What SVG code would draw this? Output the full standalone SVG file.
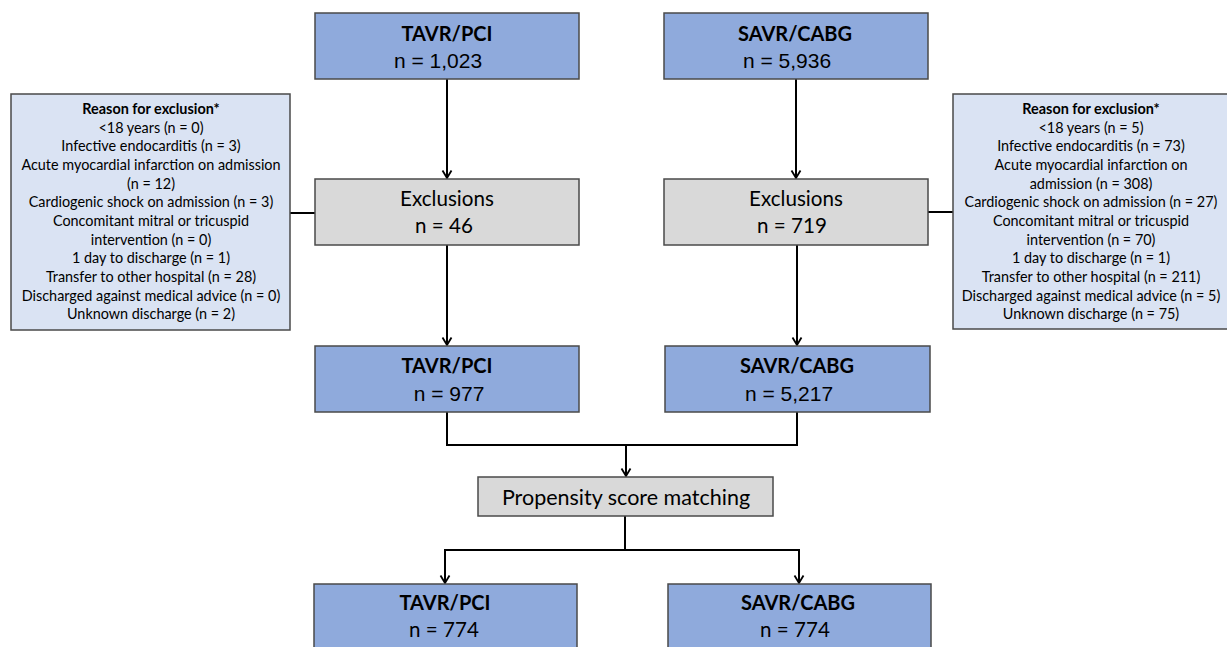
<svg xmlns="http://www.w3.org/2000/svg" width="1227" height="647" viewBox="0 0 1227 647">
<defs>
<style>
.blue{fill:#8FAADC;stroke:#4a4a4a;stroke-width:1.5}
.grey{fill:#D9D9D9;stroke:#4a4a4a;stroke-width:1.5}
.light{fill:#DAE3F3;stroke:#4a4a4a;stroke-width:1.5}
.title{font-family:Lato,"Noto Sans",sans-serif;font-weight:bold;font-size:20px;fill:#000;text-anchor:middle}
.num{font-family:"Liberation Sans",Arial,sans-serif;font-size:21px;fill:#000;text-anchor:middle}
.cal{font-family:Lato,"Noto Sans",sans-serif;font-size:20.6px;fill:#000;text-anchor:middle}
.rs{font-family:Lato,"Noto Sans",sans-serif;font-size:14.4px;fill:#000;text-anchor:middle}
.rsb{font-weight:bold}
.conn{fill:none;stroke:#000;stroke-width:2}
</style>
<marker id="arr" viewBox="0 0 12 12" refX="11" refY="6" markerWidth="12" markerHeight="12" markerUnits="userSpaceOnUse" orient="auto">
<path d="M3.5,1.5 L11,6 L3.5,10.5" fill="none" stroke="#000" stroke-width="1.8"/>
</marker>
</defs>
<rect width="1227" height="647" fill="#fff"/>
<g id="connectors">
<path class="conn" d="M447,79 V178" marker-end="url(#arr)"/>
<path class="conn" d="M796,79 V178" marker-end="url(#arr)"/>
<path class="conn" d="M290,213 H315"/>
<path class="conn" d="M928,212 H953"/>
<path class="conn" d="M447,245 V345" marker-end="url(#arr)"/>
<path class="conn" d="M797,245 V345" marker-end="url(#arr)"/>
<path class="conn" d="M447,412 V445 H797 V412"/>
<path class="conn" d="M626,445 V476" marker-end="url(#arr)"/>
<path class="conn" d="M625,516 V550"/>
<path class="conn" d="M625,550 H445 V583" marker-end="url(#arr)"/>
<path class="conn" d="M625,550 H799 V583" marker-end="url(#arr)"/>
</g>
<g id="tavr-initial">
<rect class="blue" x="315" y="13" width="264" height="66"/>
<text class="title" x="447" y="41">TAVR/PCI</text>
<text class="num" x="438" y="68">n = 1,023</text>
</g>
<g id="savr-initial">
<rect class="blue" x="664" y="13" width="264" height="66"/>
<text class="title" x="795" y="41">SAVR/CABG</text>
<text class="num" x="787" y="68">n = 5,936</text>
</g>
<g id="tavr-exclusions">
<rect class="grey" x="315" y="179" width="264" height="66"/>
<text class="cal" x="447" y="206">Exclusions</text>
<text class="cal" x="444" y="233">n = 46</text>
</g>
<g id="savr-exclusions">
<rect class="grey" x="664" y="179" width="264" height="66"/>
<text class="cal" x="796" y="206">Exclusions</text>
<text class="cal" x="792" y="233">n = 719</text>
</g>
<g id="tavr-reasons">
<rect class="light" x="11" y="94" width="279" height="236"/>
<text class="rs rsb" x="151" y="114">Reason for exclusion*</text>
<text class="rs" x="151" y="132.5">&lt;18 years (n = 0)</text>
<text class="rs" x="151" y="151.2">Infective endocarditis (n = 3)</text>
<text class="rs" x="151" y="169.8">Acute myocardial infarction on admission</text>
<text class="rs" x="151" y="188.5">(n = 12)</text>
<text class="rs" x="151" y="207.2">Cardiogenic shock on admission (n = 3)</text>
<text class="rs" x="151" y="225.8">Concomitant mitral or tricuspid</text>
<text class="rs" x="151" y="244.5">intervention (n = 0)</text>
<text class="rs" x="151" y="263.2">1 day to discharge (n = 1)</text>
<text class="rs" x="151" y="281.8">Transfer to other hospital (n = 28)</text>
<text class="rs" x="151" y="300.5">Discharged against medical advice (n = 0)</text>
<text class="rs" x="151" y="319.2">Unknown discharge (n = 2)</text>
</g>
<g id="savr-reasons">
<rect class="light" x="953" y="94" width="278" height="235"/>
<text class="rs rsb" x="1091" y="114">Reason for exclusion*</text>
<text class="rs" x="1091" y="132.5">&lt;18 years (n = 5)</text>
<text class="rs" x="1091" y="151.2">Infective endocarditis (n = 73)</text>
<text class="rs" x="1091" y="169.8">Acute myocardial infarction on</text>
<text class="rs" x="1091" y="188.5">admission (n = 308)</text>
<text class="rs" x="1091" y="207.2">Cardiogenic shock on admission (n = 27)</text>
<text class="rs" x="1091" y="225.8">Concomitant mitral or tricuspid</text>
<text class="rs" x="1091" y="244.5">intervention (n = 70)</text>
<text class="rs" x="1091" y="263.2">1 day to discharge (n = 1)</text>
<text class="rs" x="1091" y="281.8">Transfer to other hospital (n = 211)</text>
<text class="rs" x="1091" y="300.5">Discharged against medical advice (n = 5)</text>
<text class="rs" x="1091" y="319.2">Unknown discharge (n = 75)</text>
</g>
<g id="tavr-included">
<rect class="blue" x="315" y="346" width="264" height="66"/>
<text class="title" x="447" y="373">TAVR/PCI</text>
<text class="num" x="449" y="401">n = 977</text>
</g>
<g id="savr-included">
<rect class="blue" x="665" y="346" width="265" height="66"/>
<text class="title" x="797" y="373">SAVR/CABG</text>
<text class="num" x="789" y="401">n = 5,217</text>
</g>
<g id="propensity">
<rect class="grey" x="478" y="477" width="295" height="39"/>
<text class="cal" x="626" y="505" style="font-size:21.5px">Propensity score matching</text>
</g>
<g id="tavr-matched">
<rect class="blue" x="314" y="584" width="263" height="70"/>
<text class="title" x="445" y="610">TAVR/PCI</text>
<text class="cal" x="444" y="637">n = 774</text>
</g>
<g id="savr-matched">
<rect class="blue" x="668" y="584" width="263" height="70"/>
<text class="title" x="798" y="610">SAVR/CABG</text>
<text class="cal" x="795" y="637">n = 774</text>
</g>
</svg>
